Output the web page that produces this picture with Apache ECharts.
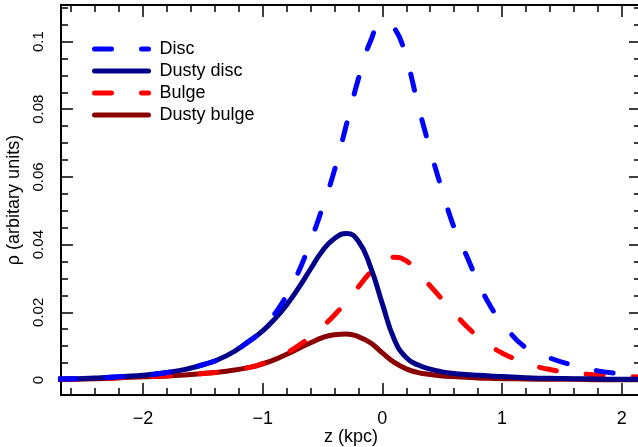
<!DOCTYPE html>
<html>
<head>
<meta charset="utf-8">
<script src="https://cdn.jsdelivr.net/npm/echarts@6/dist/echarts.min.js"></script>
<style>
  html, body { margin: 0; padding: 0; background: #fff; }
  #chart { width: 638px; height: 447px; }
</style>
</head>
<body>
<div id="chart"></div>
<script>
// z positions (kpc) the curves were read at
var z = [-2.7, -2.4, -2.1, -1.8, -1.5, -1.3, -1.1, -1.0, -0.9, -0.8, -0.7, -0.6, -0.5, -0.4, -0.3, -0.2, -0.1,
         0, 0.1, 0.2, 0.3, 0.4, 0.5, 0.6, 0.7, 0.8, 0.9, 1.0, 1.2, 1.4, 1.6, 1.8, 2.0, 2.15];

var disc = [0.0003, 0.0006, 0.0012, 0.0022, 0.0045, 0.0072, 0.0118, 0.0148, 0.0195, 0.025, 0.032, 0.041, 0.051, 0.062, 0.0755, 0.089, 0.100,
            0.1055, 0.104, 0.095, 0.081, 0.068, 0.056, 0.045, 0.037, 0.029, 0.022, 0.017, 0.0095, 0.0065, 0.0043, 0.0027, 0.0018, 0.0013];

var dustyDisc = [0.0003, 0.0006, 0.0012, 0.0022, 0.0045, 0.0072, 0.0118, 0.0145, 0.018, 0.0222, 0.0272, 0.0328, 0.0382, 0.0418, 0.0433, 0.041, 0.0335,
                 0.0225, 0.012, 0.0066, 0.0044, 0.0032, 0.0024, 0.0019, 0.0016, 0.0014, 0.0012, 0.001, 0.0007, 0.0005, 0.0004, 0.0003, 0.0002, 0.0002];

var bulge = [0.0002, 0.0004, 0.0008, 0.0012, 0.0019, 0.0026, 0.0038, 0.0048, 0.0062, 0.008, 0.0102, 0.0128, 0.0158, 0.0192, 0.0232, 0.0275, 0.0318,
             0.035, 0.0363, 0.0352, 0.0318, 0.0278, 0.0238, 0.0198, 0.016, 0.0128, 0.0102, 0.008, 0.005, 0.0031, 0.0021, 0.0015, 0.0011, 0.0009];

var dustyBulge = [0.0002, 0.0004, 0.0008, 0.0012, 0.0019, 0.0026, 0.0038, 0.0048, 0.006, 0.0076, 0.0093, 0.011, 0.0125, 0.0134, 0.0136, 0.0128, 0.011,
                  0.008, 0.0052, 0.0033, 0.0022, 0.0016, 0.0012, 0.001, 0.0008, 0.0006, 0.0005, 0.0004, 0.0003, 0.0002, 0.0002, 0.0001, 0.0001, 0.0001];

// tick positions
var xTicks = [-2, -1, 0, 1, 2];
var xMinorTicks = [-2.6, -2.4, -2.2, -1.8, -1.6, -1.4, -1.2, -0.8, -0.6, -0.4, -0.2,
                   0.2, 0.4, 0.6, 0.8, 1.2, 1.4, 1.6, 1.8, 2.2];
var yTicks = [0, 0.02, 0.04, 0.06, 0.08, 0.1];
var yMinorTicks = [0.005, 0.01, 0.015, 0.025, 0.03, 0.035, 0.045, 0.05, 0.055, 0.065, 0.07, 0.075,
                   0.085, 0.09, 0.095, 0.105, 0.11];

var xMin = -2.685, xMax = 2.161;
var yMin = -0.00443, yMax = 0.1108;
var font = 'Liberation Sans';

function pairs(vals) {
    return z.map(function (v, i) { return [v, vals[i]]; });
}

// one axis layer: big ticks (with line + labels) or small ticks only
function axis(pos, min, max, ticks, tickLen, withLine, extra) {
    var a = {
        type: 'value', position: pos, min: min, max: max,
        axisLine: { show: withLine, onZero: false, lineStyle: { color: '#000', width: 2 } },
        axisTick: { show: true, inside: true, length: tickLen, customValues: ticks, lineStyle: { color: '#000', width: 1.5 } },
        axisLabel: { show: false },
        splitLine: { show: false }
    };
    for (var k in extra) a[k] = extra[k];
    return a;
}

function line(name, vals, color, dashed, zz) {
    return {
        name: name, type: 'line', data: pairs(vals), symbol: 'none', showSymbol: false,
        smooth: 0.5, z: zz,
        lineStyle: { color: color, width: 5, type: dashed ? [17, 30] : 'solid', cap: 'round' },
        itemStyle: { color: color }
    };
}

var chart = echarts.init(document.getElementById('chart'));
chart.setOption({
    animation: false,
    textStyle: { fontFamily: font },
    grid: { left: 61, right: -3, top: 5, bottom: 52, containLabel: false, outerBoundsMode: 'none' },
    legend: {
        orient: 'vertical', left: 87, top: 35, itemWidth: 54, itemHeight: 14, itemGap: 4,
        textStyle: { fontSize: 18, color: '#000', padding: [0, 0, 0, 6] },
        lineStyle: { width: 5 },
        itemStyle: { opacity: 0 },
        data: ['Disc', 'Dusty disc', 'Bulge', 'Dusty bulge']
    },
    xAxis: [
        axis('bottom', xMin, xMax, xTicks, 12, true, {
            name: 'z (kpc)', nameLocation: 'middle', nameGap: 33, nameMoveOverlap: false,
            nameTextStyle: { fontSize: 18, color: '#000' },
            axisLabel: {
                show: true, customValues: xTicks, fontSize: 18, color: '#000', margin: 15,
                formatter: function (v) { return v < 0 ? '\u2212' + Math.abs(v) : String(v); }
            }
        }),
        axis('bottom', xMin, xMax, xMinorTicks, 7, false),
        axis('top', xMin, xMax, xTicks, 12, true),
        axis('top', xMin, xMax, xMinorTicks, 7, false)
    ],
    yAxis: [
        axis('left', yMin, yMax, yTicks, 12, true, {
            name: 'ρ (arbitary units)', nameLocation: 'middle', nameGap: 37,
            nameTextStyle: { fontSize: 18, color: '#000' },
            axisLabel: {
                show: true, customValues: yTicks, rotate: 90, margin: 15,
                fontSize: 15, color: '#000'
            }
        }),
        axis('left', yMin, yMax, yMinorTicks, 7, false),
        axis('right', yMin, yMax, yTicks, 12, true),
        axis('right', yMin, yMax, yMinorTicks, 7, false)
    ],
    series: [
        line('Disc', disc, '#0000FF', true, 5),
        line('Dusty disc', dustyDisc, '#00008B', false, 4),
        line('Bulge', bulge, '#FF0000', true, 3),
        line('Dusty bulge', dustyBulge, '#8B0000', false, 2)
    ]
});
</script>
</body>
</html>
